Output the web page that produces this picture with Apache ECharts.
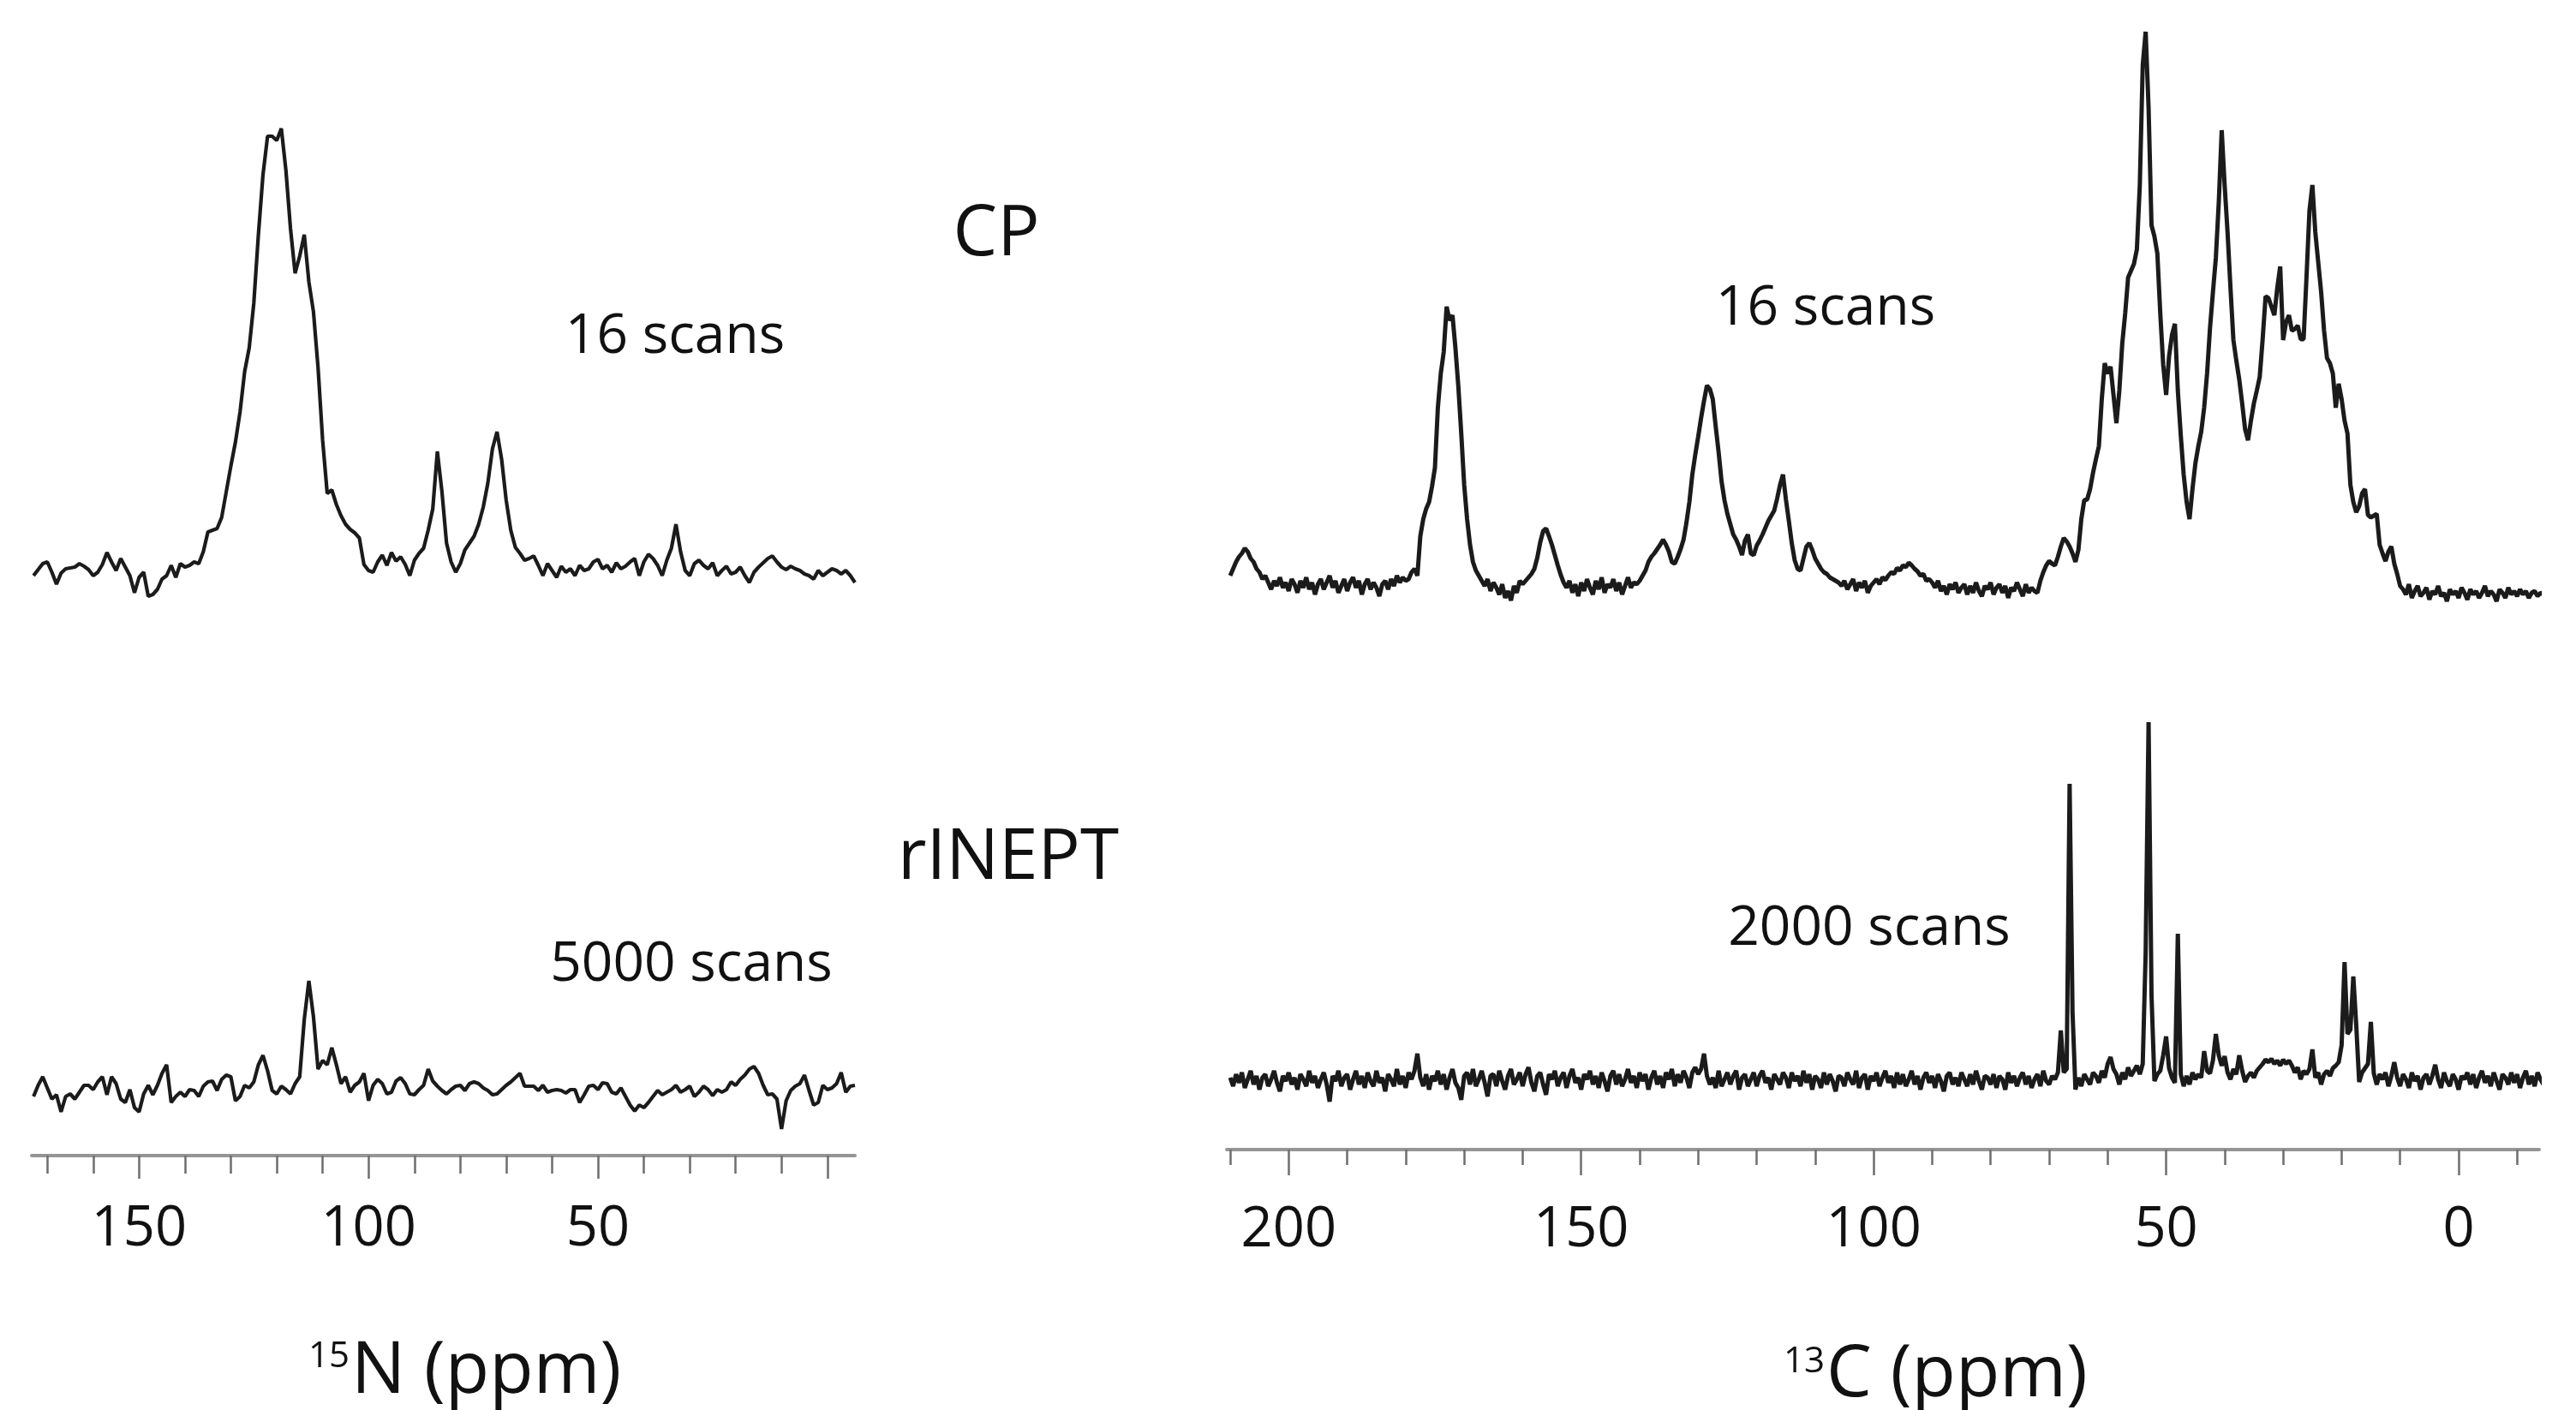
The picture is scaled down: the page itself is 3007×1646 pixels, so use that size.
<!DOCTYPE html>
<html><head><meta charset="utf-8">
<script src="https://cdn.jsdelivr.net/npm/echarts@6/dist/echarts.min.js"></script>
<style>html,body{margin:0;padding:0;background:#fff}#c{width:3007px;height:1646px}</style>
</head><body><div id="c"></div>
<script>
// 15N spectra: sampled every 1 ppm, from 173 ppm down to -6 ppm
const N_START = 173, N_STEP = 1;
const n15CP = [
 -8,-1,6,8,-4,-18,-5,0,1,2,
 6,3,-1,-8,-4,5,19,8,-2,12,
 2,-8,-28,-10,-4,-32,-30,-24,-12,-8,
 4,-10,6,2,4,8,6,20,43,45,
 47,60,90,120,148,183,230,258,310,390,
 460,505,505,500,514,465,397,345,365,390,
 335,300,235,150,88,92,75,62,52,46,
 42,36,5,-2,-4,8,16,4,19,9,
 14,5,-8,10,18,24,45,70,137,90,
 30,8,-4,6,22,30,38,52,72,100,
 140,160,128,80,45,25,18,10,12,15,
 4,-8,6,-2,-10,3,-4,0,-8,4,
 -2,0,8,11,0,4,-4,7,0,3,
 8,12,-8,8,17,12,4,-8,10,24,
 52,20,-2,-8,6,10,4,0,7,-8,
 -2,3,-6,-4,2,-8,-16,-4,2,7,
 12,15,8,2,-1,3,0,-2,-6,-8,
 -12,-2,-8,-4,0,-2,-6,-2,-8,-16
];
const n15INEPT = [
 -7,6,16,3,-10,-5,-25,-7,-4,-10,
 -2,6,6,1,10,16,-5,16,8,-10,
 -14,1,-20,-25,-4,6,-5,6,20,30,
 -14,-7,-2,-7,1,0,-7,5,10,11,
 0,13,18,16,-12,-7,6,3,10,30,
 41,23,0,-4,5,1,-4,8,16,83,
 128,86,25,35,30,50,30,8,16,-2,
 6,10,20,-12,6,13,8,-4,-2,11,
 15,8,-4,-5,1,6,25,11,5,0,
 -4,1,5,6,0,8,10,8,3,0,
 -5,-4,1,6,10,15,20,5,5,5,
 0,6,-2,0,1,0,-3,1,1,-14,
 -5,5,6,1,9,8,-2,-4,3,-7,
 -17,-24,-17,-20,-14,-7,0,-5,-2,1,
 6,-2,1,5,-7,-2,5,1,-6,1,
 -2,1,10,6,13,18,25,28,20,6,
 -5,-4,-10,-45,-12,0,5,8,18,0,
 -17,-14,6,1,3,8,21,-2,5,6
];
// 13C spectra: sampled every 0.5 ppm, from 210 ppm down to -14.5 ppm
const C_START = 210, C_STEP = 0.5;
const c13CP = [
 14,22,30,36,40,46,42,34,30,22,
 18,10,14,6,-2,8,2,12,0,6,
 -4,10,4,-6,8,0,12,-2,6,-8,
 4,10,-2,6,14,0,8,-6,2,10,
 -4,6,12,0,8,-8,4,10,-2,6,
 0,-10,4,8,-2,10,2,14,6,12,
 8,10,18,22,14,60,80,92,100,118,
 140,210,250,275,328,312,318,280,235,180,
 120,80,50,30,20,14,8,2,10,-4,
 6,0,-8,4,-12,-4,-15,2,-6,8,
 4,8,12,16,22,35,53,66,69,60,
 50,38,26,15,6,0,8,-6,4,-10,
 6,-4,10,0,-8,8,-2,12,-6,4,
 0,10,-4,6,-8,2,12,0,6,4,
 8,14,20,30,36,40,45,50,56,50,
 42,30,28,36,45,56,76,100,132,155,
 176,198,218,236,232,220,188,158,124,102,
 86,74,62,56,48,38,55,62,40,38,
 49,55,62,70,78,84,90,104,120,132,
 103,78,52,32,22,20,34,48,52,44,
 34,28,22,18,16,12,10,8,6,2,
 8,-2,4,10,-4,6,0,8,-6,2,
 6,10,4,12,9,14,18,16,23,20,
 26,24,29,26,22,19,14,16,8,10,
 6,0,8,-4,2,-8,4,-2,6,-6,
 0,4,-8,2,-6,6,-4,-10,2,-2,
 6,-8,0,4,-6,2,-12,0,-4,6,
 -2,-10,4,-6,0,-4,-6,8,18,26,
 31,28,26,36,48,58,54,48,40,30,
 44,80,102,103,115,134,150,165,220,262,
 250,258,225,192,230,285,320,362,370,378,
 395,470,610,649,560,423,410,390,320,260,
 225,270,295,308,230,178,132,100,80,115,
 145,165,182,210,250,303,345,385,450,534,
 470,415,350,289,265,243,215,185,172,195,
 215,230,246,290,340,338,328,318,350,375,
 289,310,318,300,302,306,290,290,363,440,
 470,415,380,345,300,268,262,250,210,238,
 220,195,180,120,100,88,95,110,115,85,
 82,84,86,50,40,31,42,48,28,16,
 2,-2,-8,4,-12,-4,2,-10,-6,0,
 -14,-4,-8,2,-10,-6,-16,-2,-8,-4,
 -12,0,-6,-14,-2,-8,-4,-12,-6,2,
 -10,-4,-8,-16,-2,-6,-12,0,-8,-4,
 -10,-2,-8,-4,-12,-6,-4,-10,-6,-8
];
const c13INEPT = [
 4,-6,8,-2,10,-8,2,12,-4,6,
 -10,4,8,-6,2,12,-2,-12,6,0,
 10,-4,4,-10,8,2,-6,12,-2,6,
 -8,2,10,-4,-24,6,0,12,-6,4,
 8,-10,2,12,-4,6,-8,10,0,-6,
 12,-2,4,-12,8,2,-6,14,-4,6,
 -8,10,2,12,32,4,-6,8,-10,6,
 0,12,-4,8,-10,4,14,-2,-8,-22,
 6,10,-4,14,-6,2,12,-2,-18,6,
 8,-6,12,0,-10,6,14,-4,2,10,
 -6,8,16,-2,-12,6,10,-4,-16,8,
 2,12,-6,4,10,-8,6,14,-2,4,
 -10,8,2,12,-4,6,-8,10,0,-12,
 6,12,-4,8,-6,2,14,-2,6,-8,
 10,0,8,-10,4,12,-4,6,-8,10,
 2,14,-6,8,-2,12,4,-8,10,16,
 8,14,32,6,-4,4,-8,12,-6,2,
 10,-4,6,12,-10,4,8,-6,2,10,
 -6,6,12,-2,4,-10,8,2,-4,10,
 4,-8,10,0,6,-6,12,-2,8,-10,
 6,2,-8,10,-4,8,0,-12,6,4,
 -6,10,2,-4,12,-8,4,8,-10,6,
 0,10,-6,4,12,-2,6,-8,10,-4,
 8,-6,2,12,-4,6,-10,4,10,-2,
 6,-8,8,0,-12,6,10,-4,4,-6,
 10,2,-6,8,-4,12,0,-10,6,4,
 -4,8,-8,6,2,-10,10,-2,6,-6,
 4,10,-4,6,-8,2,8,-6,12,0,
 -4,6,2,10,59,10,14,347,80,-10,
 4,-6,8,2,-4,10,6,-2,12,4,
 20,28,14,8,-4,10,2,16,6,12,
 18,8,20,150,419,100,0,8,12,30,
 52,15,4,-2,172,8,-6,6,-4,10,
 2,8,4,35,12,9,24,55,30,18,
 29,10,2,14,8,30,12,-1,6,10,
 4,12,16,20,25,22,26,20,24,18,
 25,20,24,18,10,16,2,12,8,14,
 37,4,10,-4,8,12,6,15,18,22,
 42,139,55,60,122,65,-1,10,15,20,
 69,9,-4,8,2,10,-6,6,22,4,
 -6,8,2,-8,10,0,6,-10,4,8,
 -4,6,19,2,-8,10,0,-6,8,2,
 -10,6,2,10,-4,8,-8,4,12,-2,
 6,-6,10,0,-10,8,4,-4,10,-2,
 8,-8,4,12,-4,6,-6,10,2,-4
];
// axis ticks and labels
const nMinorTicks = [0,10,20,30,40,50,60,70,80,90,100,110,120,130,140,150,160,170];
const nMajorTicks = [0,50,100,150];
const nTickLabels = [50,100,150];
const cMinorTicks = [-10,0,10,20,30,40,50,60,70,80,90,100,110,120,130,140,150,160,170,180,190,200,210];
const cMajorTicks = [0,50,100,150,200];
const cTickLabels = [0,50,100,150,200];

const FONT = '"Open Sans", "Noto Sans", sans-serif';
const INK = '#1b1b1b';
const toXY = (arr, start, step) => arr.map((v, i) => [start - i * step, v]);

const N_MIN = -6, N_MAX = 173.4, C_MIN = -13.77, C_MAX = 210.59;

function hiddenX(grid, min, max) {
  return {type:'value', gridIndex:grid, min, max, inverse:true, show:false};
}
function tickX(grid, min, max, ticks, len, labels, margin, showLine) {
  return {
    type:'value', gridIndex:grid, min, max, inverse:true, position:'bottom',
    axisLine:{show:showLine, onZero:false, lineStyle:{color:'#959595', width:4}},
    axisTick:{show:true, customValues:ticks, length:len, lineStyle:{color:'#6e6e6e', width:2.5}},
    axisLabel:labels ? {show:true, customValues:labels, fontFamily:FONT, fontSize:65, color:'#111', margin} : {show:false},
    splitLine:{show:false}
  };
}
function yAx(grid, min, max) {
  return {type:'value', gridIndex:grid, min, max, show:false, splitLine:{show:false}};
}
function line(xi, yi, data, w) {
  return {type:'line', xAxisIndex:xi, yAxisIndex:yi, data, showSymbol:false, symbol:'none',
    lineStyle:{color:INK, width:w}, clip:true, silent:true};
}
function txt(text, x, y, size, align) {
  return {type:'text', x, y, style:{text, fill:'#111', fontFamily:FONT, fontSize:size,
    textAlign:align || 'center', textVerticalAlign:'middle'}};
}

const chart = echarts.init(document.getElementById('c'));
chart.setOption({
  animation:false,
  backgroundColor:'#fff',
  grid:[
    {left:37, top:100, width:961, height:620},
    {left:37, top:1100, width:961, height:249},
    {left:1432, top:20, width:1532, height:700},
    {left:1432, top:800, width:1532, height:542}
  ],
  xAxis:[
    hiddenX(0, N_MIN, N_MAX),
    tickX(1, N_MIN, N_MAX, nMinorTicks, 21, null, 0, true),
    tickX(1, N_MIN, N_MAX, nMajorTicks, 27, nTickLabels, 54, false),
    hiddenX(2, C_MIN, C_MAX),
    tickX(3, C_MIN, C_MAX, cMinorTicks, 18, null, 0, true),
    tickX(3, C_MIN, C_MAX, cMajorTicks, 30, cTickLabels, 62, false)
  ],
  yAxis:[
    yAx(0, -56, 564),
    yAx(1, -76, 173),
    yAx(2, -34, 666),
    yAx(3, -80, 462)
  ],
  series:[
    line(0, 0, toXY(n15CP, N_START, N_STEP), 4.2),
    line(1, 1, toXY(n15INEPT, N_START, N_STEP), 4.2),
    line(3, 2, toXY(c13CP, C_START, C_STEP), 5),
    line(4, 3, toXY(c13INEPT, C_START, C_STEP), 5)
  ],
  graphic:[
    txt('CP', 1163, 275, 82),
    txt('rINEPT', 1177, 1003, 82),
    txt('16 scans', 788, 394, 64),
    txt('5000 scans', 807, 1127, 64),
    txt('16 scans', 2131, 361, 64),
    txt('2000 scans', 2182, 1085, 64),
    txt('15', 360, 1584, 42, 'left'),
    txt('N (ppm)', 410, 1602, 84, 'left'),
    txt('13', 2082, 1590, 42, 'left'),
    txt('C (ppm)', 2132, 1606, 84, 'left')
  ]
});
</script>
</body></html>
